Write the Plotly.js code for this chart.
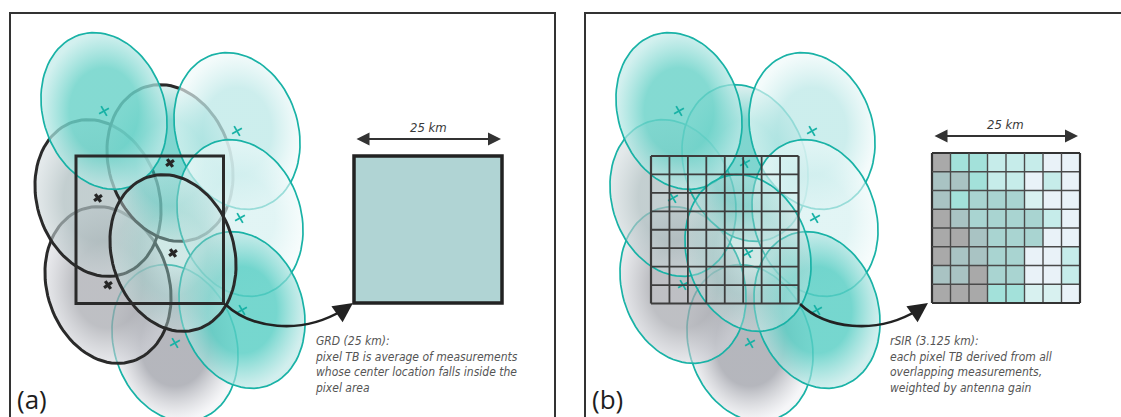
<!DOCTYPE html>
<html><head><meta charset="utf-8">
<script src="https://cdn.plot.ly/plotly-3.0.1.min.js"></script>
<style>html,body{margin:0;padding:0;background:#fff}#chart{width:1121px;height:417px}</style>
</head><body><div id="chart"></div>
<script>
// ---- DATA (pixel-space units of panel (a); panel (b) uses a shifted x axis) ----
const footprintNames = ['A5','B4','B1','B2','A1','A2','A3','A4','B3'];
const footprintX     = [175, 108,  98, 170, 104, 237, 240, 242, 173];
const footprintY     = [343, 285, 198, 163, 111, 131, 218, 310, 253];
const footprintInGRD = [false, true, true, true, false, false, false, false, true];
const footprintCore  = ['rgba(160,162,170,0.78)','rgba(165,167,173,0.72)','rgba(172,188,190,0.72)','rgba(50,188,178,0.62)',
                        'rgba(105,210,200,0.82)','rgba(188,232,231,0.75)','rgba(212,240,240,0.68)','rgba(88,206,196,0.82)','rgba(150,205,200,0.45)'];
const footprintRim   = ['rgba(236,237,241,0.5)','rgba(212,214,220,0.55)','rgba(205,215,218,0.55)','rgba(180,222,220,0.45)',
                        'rgba(192,234,232,0.7)','rgba(238,249,249,0.65)','rgba(240,250,250,0.6)','rgba(185,230,228,0.65)','rgba(205,228,228,0.4)'];

const rsirClasses = [
  [0,3,3,4,4,4,6,6],
  [1,1,3,4,4,6,4,6],
  [1,3,2,2,2,5,6,6],
  [0,1,2,2,2,2,4,6],
  [0,0,1,2,2,2,6,6],
  [0,1,1,2,2,6,6,4],
  [1,1,0,2,2,6,6,4],
  [0,0,0,3,3,5,5,6]
];
const rsirPalette = ['#a9a9a9','#a9c3c3','#a9d4d1','#a3e1da','#c6ecea','#d8f1f0','#e9f2f8'];
const grdColor = '#b0d4d4';

const panelLabels = ['(a)','(b)'];
const scaleLabel = '25 km';
const captions = [
  ['GRD (25 km):','pixel TB is average of measurements','whose center location falls inside the','pixel area'],
  ['rSIR (3.125 km):','each pixel TB derived from all','overlapping measurements,','weighted by antenna gain']
];

// ---- GEOMETRY / STYLE ----
const G = {
  ell: {a: 80, b: 61, tilt: 18, n: 90},
  frame: {x0: 10, x1: 555, y0: 13, y1: 440},
  pix: {x0: 76, y0: 156, size: 147.5, n: 8},
  grd: {x0: 354, y0: 156, x1: 502, y1: 303},
  rsir: {x0: 357, y0: 153, x1: 505, y1: 303},
  arrowY: [139, 136], arrowX: [[355, 501], [358, 503]], labelY: [127, 124],
  curve: 'M 225 304 C 250 328, 300 336, 343 310',
  head: {x: 353, y: 303, ax: 343, ay: 310},
  caption: {x: 313, y: 340},
  label: {x: 15, y: 399},
  teal: '#19b2a6', black: '#2a2a2a'
};
const axes = ['x','x2'];

function ellipsePath(cx, cy) {
  const t = G.ell.tilt*Math.PI/180, s = Math.sin(t), c = Math.cos(t);
  const xs = [], ys = [];
  for (let i = 0; i <= G.ell.n; i++) {
    const u = 2*Math.PI*i/G.ell.n;
    const p = G.ell.a*Math.cos(u), q = G.ell.b*Math.sin(u);
    xs.push(cx + p*(-s) + q*c);
    ys.push(cy + p*(-c) + q*(-s));
  }
  return {xs, ys};
}

const traces = [];
axes.forEach((ax, pi) => {
  footprintNames.forEach((nm, i) => {
    const e = ellipsePath(footprintX[i], footprintY[i]);
    const blackLine = pi === 0 && footprintInGRD[i];
    traces.push({
      type: 'scatter', mode: 'lines', xaxis: ax, yaxis: 'y', x: e.xs, y: e.ys, name: nm,
      fill: 'toself', fillcolor: footprintCore[i],
      fillgradient: {type: 'radial', colorscale: [[0, footprintCore[i]], [0.55, footprintCore[i]], [1, footprintRim[i]]]},
      line: {color: blackLine ? G.black : G.teal, width: blackLine ? 3 : 1.7},
      hoverinfo: 'skip', showlegend: false
    });
  });
});
// rSIR cells
const cw = (G.rsir.x1 - G.rsir.x0)/8, ch = (G.rsir.y1 - G.rsir.y0)/8;
traces.push({
  type: 'heatmap', xaxis: 'x2', yaxis: 'y', z: rsirClasses,
  x: rsirClasses[0].map((_, j) => G.rsir.x0 + cw*(j+0.5)),
  y: rsirClasses.map((_, i) => G.rsir.y0 + ch*(i+0.5)),
  zmin: 0, zmax: rsirPalette.length-1, showscale: false, hoverinfo: 'skip',
  colorscale: rsirPalette.map((c, k) => [k/(rsirPalette.length-1), c])
});
// centre marks
axes.forEach((ax, pi) => {
  const tealIdx = footprintNames.map((_, i) => i).filter(i => pi === 1 || !footprintInGRD[i]);
  const blkIdx = pi === 0 ? footprintNames.map((_, i) => i).filter(i => footprintInGRD[i]) : [];
  traces.push({type: 'scatter', mode: 'markers', xaxis: ax, yaxis: 'y', hoverinfo: 'skip', showlegend: false,
    x: tealIdx.map(i => footprintX[i]), y: tealIdx.map(i => footprintY[i]),
    marker: {symbol: 'x-thin', size: 8, angle: 15, line: {color: G.teal, width: 1.8}, color: G.teal}});
  if (blkIdx.length) traces.push({type: 'scatter', mode: 'markers', xaxis: ax, yaxis: 'y', hoverinfo: 'skip', showlegend: false,
    x: blkIdx.map(i => footprintX[i]), y: blkIdx.map(i => footprintY[i]),
    marker: {symbol: 'x', size: 8, angle: 10, color: '#262626', line: {width: 0}}});
});

const shapes = [], annotations = [];
axes.forEach((ax, pi) => {
  shapes.push({type: 'rect', xref: ax, yref: 'y', x0: G.frame.x0, x1: G.frame.x1, y0: G.frame.y0, y1: G.frame.y1,
    line: {color: '#333', width: 2}, fillcolor: 'rgba(0,0,0,0)', layer: 'below'});
  const P = G.pix, step = P.size/P.n;
  if (pi === 0) {
    shapes.push({type: 'rect', xref: ax, yref: 'y', x0: P.x0, x1: P.x0+P.size, y0: P.y0, y1: P.y0+P.size, line: {color: '#2a2a2a', width: 3}});
  } else {
    for (let k = 0; k <= P.n; k++) {
      const outer = k === 0 || k === P.n;
      shapes.push({type: 'line', xref: ax, yref: 'y', x0: P.x0 + k*step, x1: P.x0 + k*step, y0: P.y0, y1: P.y0+P.size, line: {color: '#3d3d3d', width: outer ? 2.2 : 1.8}});
      shapes.push({type: 'line', xref: ax, yref: 'y', x0: P.x0, x1: P.x0+P.size, y0: P.y0 + k*step, y1: P.y0 + k*step, line: {color: '#3d3d3d', width: outer ? 2.2 : 1.8}});
    }
  }
  if (pi === 0) {
    shapes.push({type: 'rect', xref: ax, yref: 'y', x0: G.grd.x0, x1: G.grd.x1, y0: G.grd.y0, y1: G.grd.y1, fillcolor: grdColor, line: {color: '#222', width: 3.5}});
  } else {
    const R = G.rsir;
    for (let k = 0; k <= 8; k++) {
      const outer = k === 0 || k === 8;
      shapes.push({type: 'line', xref: ax, yref: 'y', x0: R.x0 + k*cw, x1: R.x0 + k*cw, y0: R.y0, y1: R.y1, line: {color: outer ? '#333' : '#4a4a4a', width: outer ? 2.2 : 1.4}});
      shapes.push({type: 'line', xref: ax, yref: 'y', x0: R.x0, x1: R.x1, y0: R.y0 + k*ch, y1: R.y0 + k*ch, line: {color: outer ? '#333' : '#4a4a4a', width: outer ? 2.2 : 1.4}});
    }
  }
  shapes.push({type: 'path', xref: ax, yref: 'y', path: G.curve, line: {color: '#222', width: 2.6}});
  annotations.push({xref: ax, yref: 'y', axref: ax, ayref: 'y', x: G.head.x, y: G.head.y, ax: G.head.ax, ay: G.head.ay,
    text: '', showarrow: true, arrowhead: 2, arrowsize: 1.5, arrowwidth: 2.6, arrowcolor: '#222'});
  annotations.push({xref: ax, yref: 'y', axref: ax, ayref: 'y', x: G.arrowX[pi][1], y: G.arrowY[pi], ax: G.arrowX[pi][0], ay: G.arrowY[pi],
    text: '', showarrow: true, arrowhead: 2, startarrowhead: 2, arrowside: 'end+start', arrowsize: 1.3, startarrowsize: 1.3, arrowwidth: 2, arrowcolor: '#333'});
  annotations.push({xref: ax, yref: 'y', x: (G.arrowX[pi][0]+G.arrowX[pi][1])/2, y: G.labelY[pi], text: '<i>' + scaleLabel + '</i>', showarrow: false,
    font: {family: 'Liberation Sans Narrow, DejaVu Sans Condensed, Roboto', size: 13, color: '#3a3a3a'}});
  annotations.push({xref: ax, yref: 'y', x: G.caption.x, y: G.caption.y, xanchor: 'left', yanchor: 'top', yshift: 8, align: 'left', showarrow: false,
    text: captions[pi].map(s => '<i>' + s + '</i>').join('<br>'),
    font: {family: 'Liberation Sans Narrow, DejaVu Sans Condensed, Roboto', size: 12, color: '#555'}});
  annotations.push({xref: ax, yref: 'y', x: G.label.x, y: G.label.y, xanchor: 'left', yanchor: 'middle', showarrow: false,
    text: panelLabels[pi], font: {family: 'Open Sans, Noto Sans', size: 26, color: '#1e1e1e'}});
});

const layout = {
  width: 1121, height: 417, margin: {l: 0, r: 0, t: 0, b: 0}, paper_bgcolor: '#fff', plot_bgcolor: '#fff', showlegend: false,
  xaxis: {range: [0, 1121], visible: false, fixedrange: true},
  xaxis2: {range: [-575, 546], visible: false, fixedrange: true, overlaying: 'x'},
  yaxis: {range: [417, 0], visible: false, fixedrange: true},
  shapes, annotations
};
Plotly.newPlot('chart', traces, layout, {staticPlot: true, displayModeBar: false});
</script></body></html>
